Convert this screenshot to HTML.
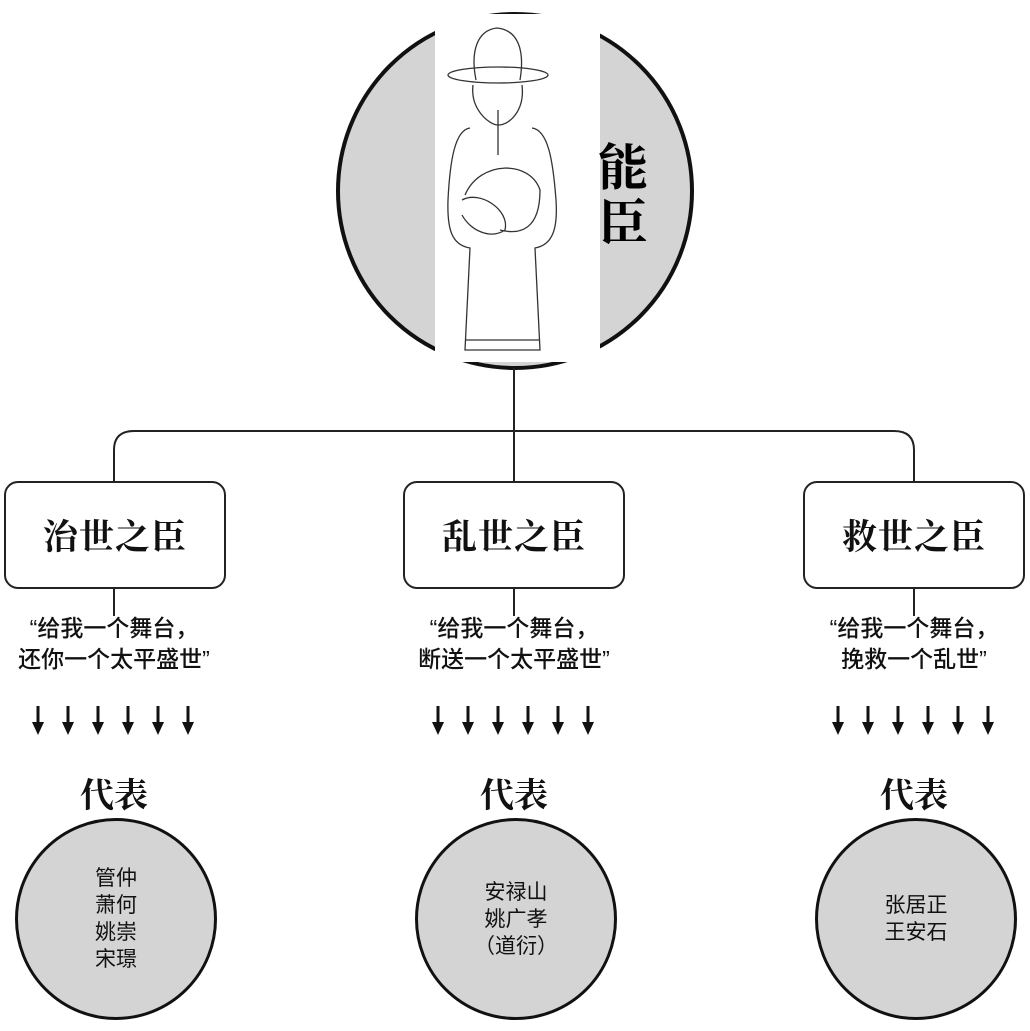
<!DOCTYPE html>
<html><head><meta charset="utf-8"><style>
body{margin:0;background:#fff;width:1030px;height:1031px;overflow:hidden;position:relative;font-family:"Liberation Sans","Noto Sans CJK SC",sans-serif;color:#111}
.a{position:absolute}
.box{position:absolute;width:222px;height:108px;border:2.5px solid #222;border-radius:14px;top:481px;box-sizing:border-box;display:flex;align-items:center;justify-content:center;font-family:"Liberation Serif","Noto Serif CJK SC",serif;font-weight:bold;font-size:35px;letter-spacing:1px}
.q{position:absolute;width:300px;text-align:center;font-size:23px;line-height:31px;top:613px;font-weight:500}
.db{position:absolute;top:768px;width:300px;text-align:center;font-family:"Liberation Serif","Noto Serif CJK SC",serif;font-weight:bold;font-size:34px}
.c{position:absolute;width:196px;height:196px;border-radius:50%;background:#d4d4d4;border:3px solid #111;top:818px;display:flex;align-items:center;justify-content:center;text-align:center;font-size:21px;line-height:27px}
</style></head><body>
<svg class="a" style="left:0;top:0" width="1030" height="1031">
<defs><g id="ar"><line x1="0" y1="706" x2="0" y2="726" stroke="#111" stroke-width="3"/><path d="M-6 722 L6 722 L0 735 Z" fill="#111"/></g>
<g id="ars"><use href="#ar" x="38"/><use href="#ar" x="68"/><use href="#ar" x="98"/><use href="#ar" x="128"/><use href="#ar" x="158"/><use href="#ar" x="188"/></g></defs>
<use href="#ars"/><use href="#ars" x="400"/><use href="#ars" x="800"/>
<circle cx="515" cy="191" r="177" fill="#d4d4d4" stroke="#111" stroke-width="4"/>
<rect x="435" y="14" width="165" height="348" fill="#fff"/>
<g fill="none" stroke="#333" stroke-width="1.3">
<ellipse cx="498" cy="75" rx="50" ry="8"/>
<path d="M476 80 C470 50 478 30 497 28 C518 30 525 50 520 80"/>
<path d="M473 85 C470 110 490 125 498 125 C510 125 525 110 522 85"/>
<path d="M470 128 C455 130 450 160 448 200 C447 230 452 245 470 248 L465 350 L540 350 L535 248 C552 245 558 230 556 200 C553 160 548 130 532 128"/>
<path d="M465 195 C480 160 530 160 540 190 C540 230 520 235 500 230"/>
<path d="M462 200 C480 190 510 210 505 230 C490 240 470 230 462 215"/>
<line x1="465" y1="340" x2="540" y2="340"/>
<line x1="498" y1="110" x2="498" y2="155"/>
</g>
<text x="598" y="185" font-family="Liberation Serif,Noto Serif CJK SC,serif" font-weight="bold" font-size="50">能</text>
<text x="598" y="240" font-family="Liberation Serif,Noto Serif CJK SC,serif" font-weight="bold" font-size="50">臣</text>
<g fill="none" stroke="#222" stroke-width="2">
<line x1="514" y1="368" x2="514" y2="482"/>
<path d="M114 482 V450 Q114 431 134 431 H894 Q914 431 914 450 V482"/>
<line x1="114" y1="589" x2="114" y2="616"/>
<line x1="514" y1="589" x2="514" y2="616"/>
<line x1="914" y1="589" x2="914" y2="616"/>
</g>
</svg>
<div class="box" style="left:4px">治世之臣</div>
<div class="box" style="left:403px">乱世之臣</div>
<div class="box" style="left:803px">救世之臣</div>
<div class="q" style="left:-36px">“给我一个舞台，<br>还你一个太平盛世”</div>
<div class="q" style="left:364px">“给我一个舞台，<br>断送一个太平盛世”</div>
<div class="q" style="left:764px">“给我一个舞台，<br>挽救一个乱世”</div>
<div class="db" style="left:-36px">代表</div>
<div class="db" style="left:364px">代表</div>
<div class="db" style="left:764px">代表</div>
<div class="c" style="left:15px">管仲<br>萧何<br>姚崇<br>宋璟</div>
<div class="c" style="left:415px">安禄山<br>姚广孝<br>（道衍）</div>
<div class="c" style="left:815px">张居正<br>王安石</div>
</body></html>
